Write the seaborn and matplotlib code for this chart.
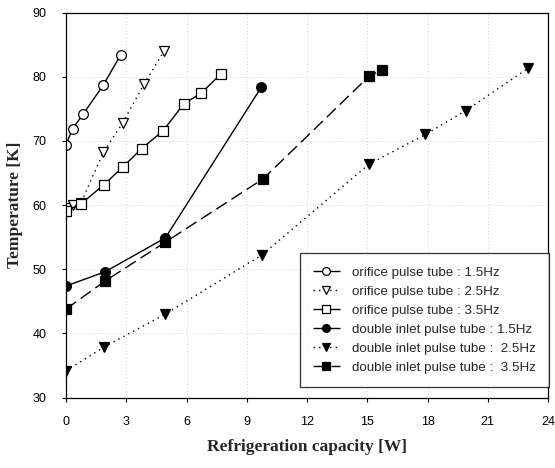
import matplotlib
matplotlib.use("Agg")
import matplotlib.pyplot as plt
import seaborn as sns

# Data
op15_x = [0.0, 0.33, 0.86, 1.86, 2.72]
op15_y = [69.4, 71.9, 74.2, 78.7, 83.4]

op25_x = [0.0, 0.35, 0.75, 1.86, 2.82, 3.88, 4.88]
op25_y = [59.6, 60.0, 60.4, 68.2, 72.8, 78.8, 84.0]

op35_x = [0.0, 0.75, 1.9, 2.85, 3.77, 4.84, 5.87, 6.72, 7.7]
op35_y = [59.1, 60.2, 63.2, 66.0, 68.8, 71.6, 75.8, 77.4, 80.4]

di15_x = [0.0, 1.94, 4.95, 9.73]
di15_y = [47.4, 49.6, 54.9, 78.4]

di25_x = [0.0, 1.9, 4.93, 9.74, 15.1, 17.9, 19.9, 23.0]
di25_y = [34.2, 37.9, 43.0, 52.2, 66.4, 71.0, 74.7, 81.3]

di35_x = [0.0, 1.96, 4.93, 9.82, 15.1, 15.75]
di35_y = [43.8, 48.2, 54.2, 64.1, 80.1, 81.1]

labels = [
    "orifice pulse tube : 1.5Hz",
    "orifice pulse tube : 2.5Hz",
    "orifice pulse tube : 3.5Hz",
    "double inlet pulse tube : 1.5Hz",
    "double inlet pulse tube :  2.5Hz",
    "double inlet pulse tube :  3.5Hz",
]
xticks = [0, 3, 6, 9, 12, 15, 18, 21, 24]
yticks = [30, 40, 50, 60, 70, 80, 90]

sns.set_style("white")
plt.rcParams['font.family'] = ['Liberation Sans', 'DejaVu Sans']

fig = plt.figure(figsize=(5.55, 4.68), dpi=100)
ax = fig.add_axes([66/555, 1 - 397.7/468, (548-66)/555, (397.7-12.5)/468])

series = [
    (op15_x, op15_y, 'o', 'white', (0, ()), 7),
    (op25_x, op25_y, 'v', 'white', (0, (1, 3)), 7),
    (op35_x, op35_y, 's', 'white', (0, ()), 7),
    (di15_x, di15_y, 'o', 'black', (0, ()), 7),
    (di25_x, di25_y, 'v', 'black', (0, (1, 3)), 7),
    (di35_x, di35_y, 's', 'black', (0, (9, 4)), 7),
]
for (xs, ys, m, fc, ls, ms), lab in zip(series, labels):
    sns.lineplot(x=xs, y=ys, ax=ax, sort=False, color='black', marker=m,
                 markerfacecolor=fc, markeredgecolor='black', markersize=ms,
                 markeredgewidth=0.9, linewidth=1.0, label=lab)
    ax.lines[-1].set_linestyle(ls)

ax.set_xlim(0, 24)
ax.set_ylim(30, 90)
ax.set_xticks(xticks)
ax.set_yticks(yticks)
ax.grid(True, linestyle=(0, (1, 3)), color='#c4c4c4', linewidth=0.6)
for s in ax.spines.values():
    s.set_visible(True)
    s.set_color('black')
    s.set_linewidth(0.9)
ax.tick_params(axis='both', direction='out', length=3, width=0.8,
               labelsize=9, colors='black', bottom=True, left=True)
ax.tick_params(axis='x', pad=10)
ax.tick_params(axis='y', pad=11)

ax.set_xlabel("Refrigeration capacity [W]", family='Liberation Serif',
              fontweight='bold', fontsize=12.5, labelpad=8)
ax.set_ylabel("Temperature [K]", family='Liberation Serif',
              fontweight='bold', fontsize=12.5, labelpad=7)

handles, labs = ax.get_legend_handles_labels()
leg = ax.legend(handles, labs, loc='lower right', bbox_to_anchor=(1.002, 0.028),
                borderaxespad=0, frameon=True, fancybox=False,
                edgecolor='black', fontsize=9.6,
                handlelength=2.0, labelspacing=0.5, borderpad=1.0,
                handletextpad=0.9, markerscale=0.8)
leg.get_frame().set_linewidth(0.9)

fig.savefig("out.png", dpi=100)
